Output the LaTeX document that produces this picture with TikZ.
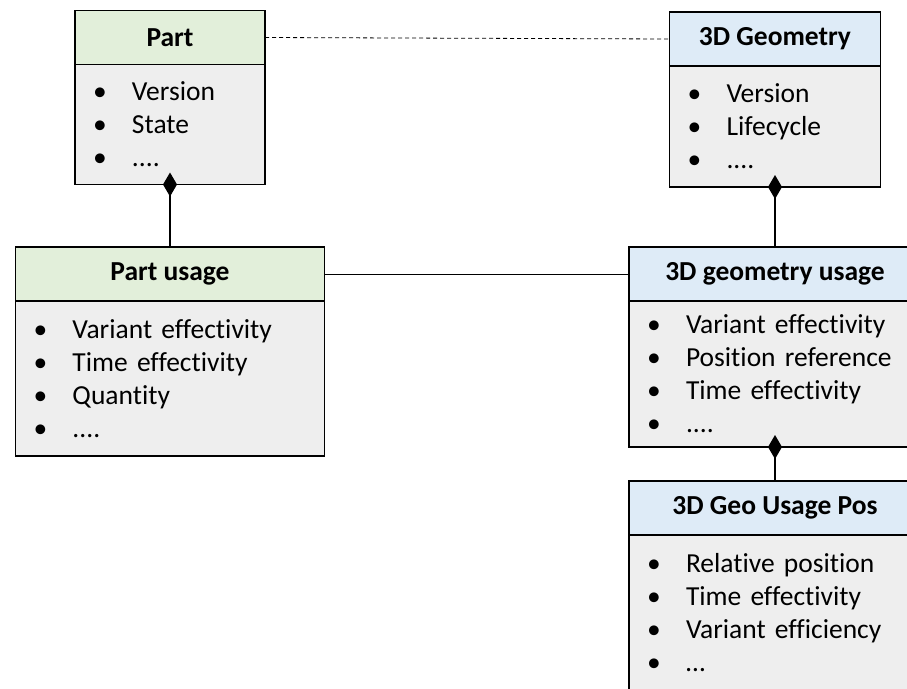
\documentclass[tikz,border=0pt]{standalone}
\usepackage{fontspec}
\setmainfont{Carlito}[Ligatures=NoCommon]
\usetikzlibrary{positioning,arrows.meta}
\definecolor{headgreen}{HTML}{E2EFDA}
\definecolor{headblue}{HTML}{DEEBF7}
\definecolor{bodygray}{HTML}{EEEEEE}
\newcommand{\bul}[1]{\makebox[37pt][l]{\hspace{-2pt}\textbullet}#1}

\begin{document}
\begin{tikzpicture}[x=1pt, y=-1pt,
    every node/.style={outer sep=0pt, font=\fontsize{27.5}{33}\selectfont},
    head/.style={draw, line width=1.6pt, minimum height=54pt, inner xsep=0pt,
        font=\fontsize{27.5}{33}\selectfont\bfseries},
    body/.style={draw, line width=1.6pt, fill=bodygray, inner xsep=20pt, align=left},
    comp/.style={line width=2.4pt, -{Diamond[length=24pt, width=14pt]}, shorten >=-12pt}]
    \useasboundingbox (0,0) rectangle (907,688);
    \clip (0,0) rectangle (907,688);

    \node[head, fill=headgreen, minimum width=190pt] (parthead) at (170,37.5) {Part};
    \node[body, text width=150pt, minimum height=120pt, below=0pt of parthead] (partbody)
        {\bul{Version}\\ \bul{State}\\ \bul{....}};

    \node[head, fill=headblue, minimum width=211pt] (geohead) at (775,39) {3D Geometry};
    \node[body, text width=171pt, minimum height=121pt, below=0pt of geohead] (geobody)
        {\bul{Version}\\ \bul{Lifecycle}\\ \bul{....}};

    \node[head, fill=headgreen, minimum width=309pt] (usehead) at (170,274) {Part usage};
    \node[body, text width=269pt, minimum height=155pt, below=0pt of usehead] (usebody)
        {\bul{Variant effectivity}\\ \bul{Time effectivity}\\ \bul{Quantity}\\ \bul{....}};

    \node[head, fill=headblue, minimum width=292pt] (geousehead) at (775,274) {3D geometry usage};
    \node[body, text width=252pt, minimum height=146pt, below=0pt of geousehead] (geousebody)
        {\bul{Variant effectivity}\\ \bul{Position reference}\\ \bul{Time effectivity}\\ \bul{....}};

    \node[head, fill=headblue, minimum width=292pt] (poshead) at (775,508) {3D Geo Usage Pos};
    \node[body, text width=252pt, minimum height=155pt, below=0pt of poshead] (posbody)
        {\bul{Relative position}\\ \bul{Time effectivity}\\ \bul{Variant efficiency}\\ \bul{…}};

    \draw[dashed, dash pattern=on 4pt off 3pt, line width=0.8pt] (parthead.east) -- (geohead.west);
    \draw[line width=1pt] (usehead.east) -- (geousehead.west);
    \draw[comp] (usehead.north) -- (partbody.south);
    \draw[comp] (geousehead.north) -- (geobody.south);
    \draw[comp] (poshead.north) -- (geousebody.south);
\end{tikzpicture}
\end{document}
